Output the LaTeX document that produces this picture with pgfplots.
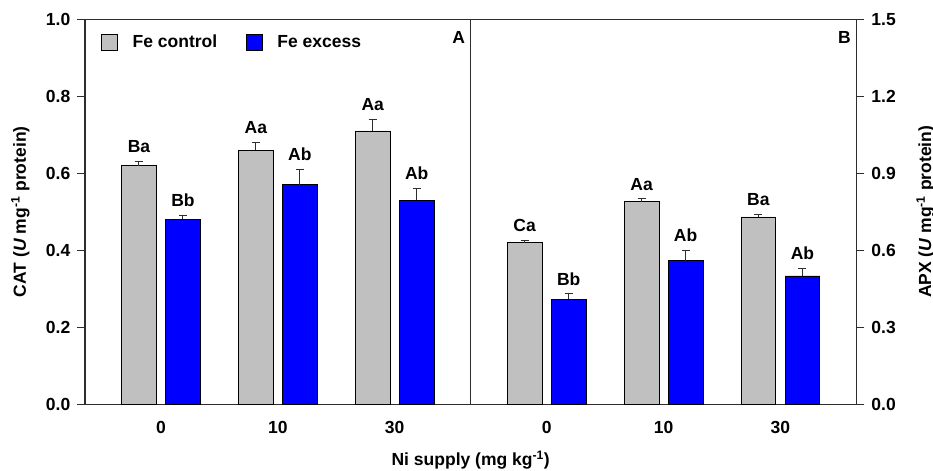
\documentclass[border=0pt]{standalone}
\usepackage{fontspec}
\setmainfont{Liberation Sans}
\usepackage{pgfplots}
\pgfplotsset{compat=1.18}
\definecolor{bargray}{RGB}{192,192,192}
\definecolor{barblue}{RGB}{0,0,255}
\definecolor{axgray}{RGB}{45,45,45}
\newcommand{\bfs}{\fontsize{17.5bp}{20bp}\selectfont\bfseries}
\tikzset{lab/.style={font=\bfs, anchor=south, inner sep=0pt, yshift=8.5bp}}
\pgfplotsset{
  panel/.style={
    scale only axis, width=385.7bp, height=385bp,
    xmin=-0.65, xmax=2.65, ymin=0,
    xtick={0,1,2}, xticklabels={0,10,30},
    major x tick style={draw=none},
    tick align=outside, major tick length=8bp,
    axis line style={axgray, line width=1.1bp},
    every tick/.style={axgray, line width=1bp},
    tick label style={font=\bfs},
    xticklabel style={yshift=-5bp},
    /pgf/number format/assume math mode=true,
    yticklabel style={/pgf/number format/fixed, /pgf/number format/fixed zerofill, /pgf/number format/precision=1},
    ybar, bar width=34.7bp,
    clip=false,
  },
  gbar/.style={fill=bargray, draw=black, line width=0.8bp, bar shift=-22bp,
    error bars/.cd, y dir=plus, y explicit,
    error bar style={axgray, line width=1bp},
    error mark options={axgray, line width=1bp, mark size=4bp, rotate=90}},
  bbar/.style={fill=barblue, draw=black, line width=0.8bp, bar shift=22bp,
    error bars/.cd, y dir=plus, y explicit,
    error bar style={axgray, line width=1bp},
    error mark options={axgray, line width=1bp, mark size=4bp, rotate=90}},
}
\begin{document}
\begin{tikzpicture}
\path[use as bounding box] (-85bp,-66.7bp) rectangle (848bp,404.3bp);
% Panel A
\begin{axis}[panel, at={(0bp,0bp)}, anchor=south west,
  ymax=1, ytick={0,0.2,0.4,0.6,0.8,1.0}, ytick pos=left,
  yticklabel style={xshift=-3.2bp},
  xlabel={Ni supply (mg kg\textsuperscript{-1})},
  ylabel={CAT (\textit{U} mg\textsuperscript{-1} protein)},
  every axis y label/.style={at={(axis description cs:-0.1672,0.5)}, rotate=90, anchor=center, font=\bfs},
  every axis x label/.style={at={(axis description cs:1,-0.1455)}, anchor=center, font=\bfs},
  legend style={draw=none, fill=none, inner sep=0pt, font=\bfs,
    at={(0,1)}, xshift=16bp, yshift=-23bp, anchor=west,
    legend columns=2,
    /tikz/every odd column/.append style={column sep=12.7bp},
    /tikz/every even column/.append style={column sep=26.7bp}},
  legend image code/.code={\draw[#1, draw=black, line width=0.8bp] (0bp,-8bp) rectangle (16bp,8bp);},
]
\addplot[gbar] coordinates {(0,0.62) +- (0,0.01) (1,0.66) +- (0,0.02) (2,0.71) +- (0,0.03)};
\addlegendentry{Fe control}
\addplot[bbar] coordinates {(0,0.48) +- (0,0.01) (1,0.57) +- (0,0.04) (2,0.53) +- (0,0.03)};
\addlegendentry{Fe excess}
\node[lab, xshift=-22bp] at (axis cs:0,0.63) {Ba};
\node[lab, xshift=22bp] at (axis cs:0,0.49) {Bb};
\node[lab, xshift=-22bp] at (axis cs:1,0.68) {Aa};
\node[lab, xshift=22bp] at (axis cs:1,0.61) {Ab};
\node[lab, xshift=-22bp] at (axis cs:2,0.74) {Aa};
\node[lab, xshift=22bp] at (axis cs:2,0.56) {Ab};
\node[font=\bfs, anchor=center, xshift=-12bp, yshift=-18.4bp] at (rel axis cs:1,1) {A};
\end{axis}
% Panel B
\begin{axis}[panel, at={(385.7bp,0bp)}, anchor=south west,
  ymax=1.5, ytick={0,0.3,0.6,0.9,1.2,1.5}, ytick pos=right, yticklabel pos=right,
  yticklabel style={xshift=3.5bp},
  ylabel={APX (\textit{U} mg\textsuperscript{-1} protein)},
  every axis y label/.style={at={(axis description cs:1.1795,0.5)}, rotate=90, anchor=center, font=\bfs},
]
\addplot[gbar] coordinates {(0,0.63) +- (0,0.01) (1,0.79) +- (0,0.01) (2,0.73) +- (0,0.01)};
\addplot[bbar] coordinates {(0,0.41) +- (0,0.02) (1,0.56) +- (0,0.04) (2,0.50) +- (0,0.03)};
\node[lab, xshift=-22bp] at (axis cs:0,0.64) {Ca};
\node[lab, xshift=22bp] at (axis cs:0,0.43) {Bb};
\node[lab, xshift=-22bp] at (axis cs:1,0.80) {Aa};
\node[lab, xshift=22bp] at (axis cs:1,0.60) {Ab};
\node[lab, xshift=-22bp] at (axis cs:2,0.74) {Ba};
\node[lab, xshift=22bp] at (axis cs:2,0.53) {Ab};
\node[font=\bfs, anchor=center, xshift=-12bp, yshift=-18.4bp] at (rel axis cs:1,1) {B};
\end{axis}
\end{tikzpicture}
\end{document}
